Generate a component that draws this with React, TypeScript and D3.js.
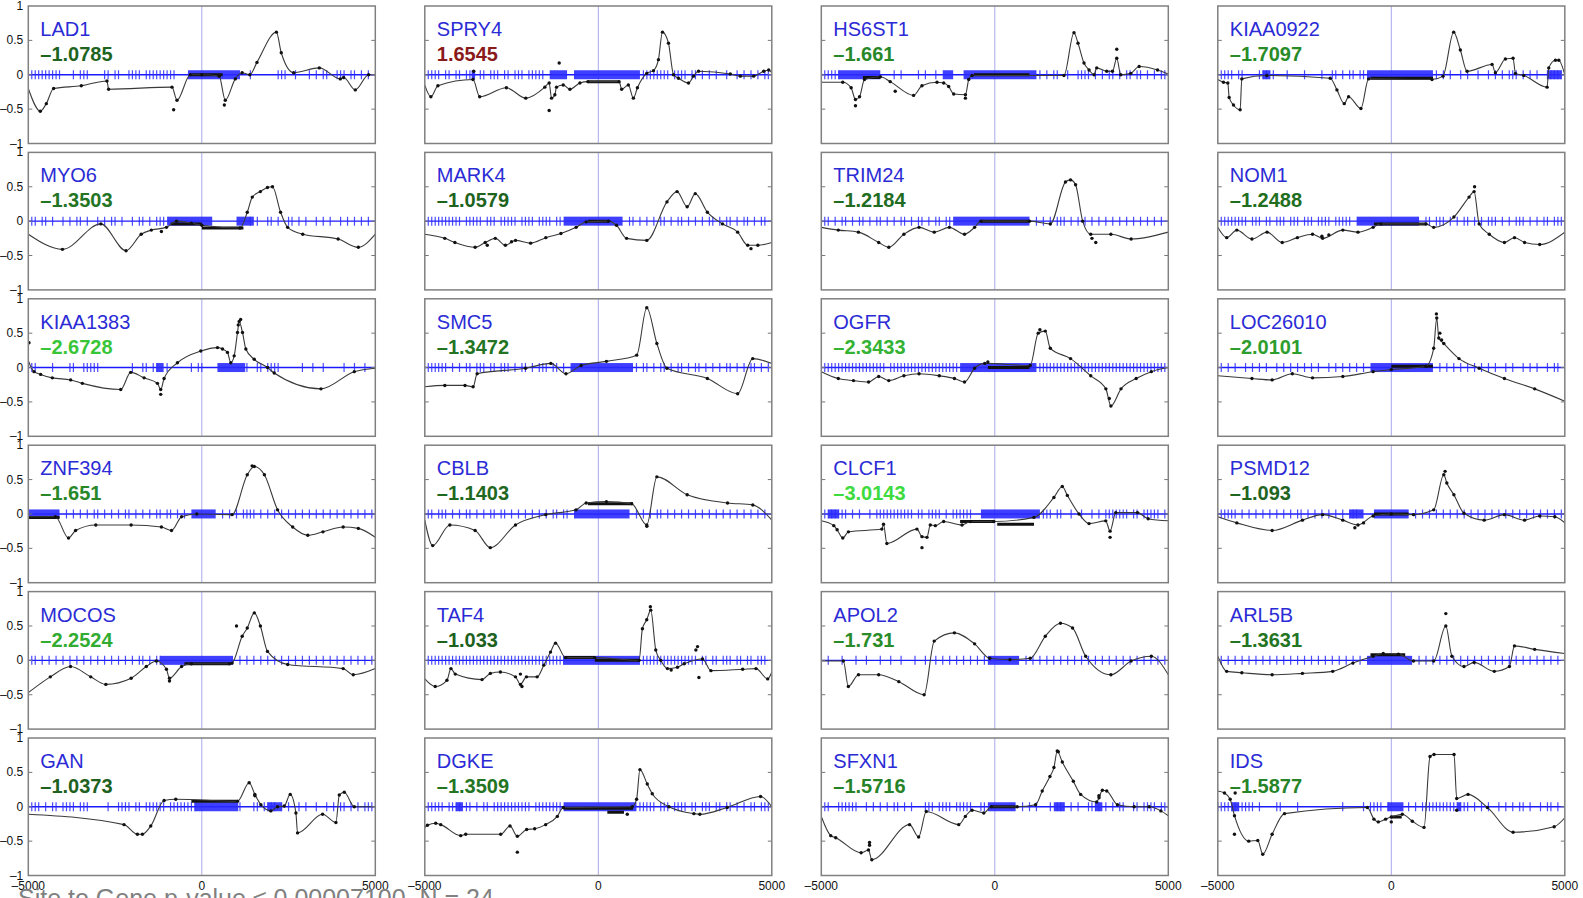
import React from "react";
import * as d3 from "d3";

type P = [number, number];

// ---------- data ----------
const genes = ["LAD1","SPRY4","HS6ST1","KIAA0922","MYO6","MARK4","TRIM24","NOM1","KIAA1383","SMC5","OGFR","LOC26010","ZNF394","CBLB","CLCF1","PSMD12","MOCOS","TAF4","APOL2","ARL5B","GAN","DGKE","SFXN1","IDS"];
const scores = [-1.0785,1.6545,-1.661,-1.7097,-1.3503,-1.0579,-1.2184,-1.2488,-2.6728,-1.3472,-2.3433,-2.0101,-1.651,-1.1403,-3.0143,-1.093,-2.2524,-1.033,-1.731,-1.3631,-1.0373,-1.3509,-1.5716,-1.5877];

const xTicks = [-5000, 0, 5000];
const yTicks = [-1, -0.5, 0, 0.5, 1];
const footer = "Site to Gene  p-value \u2264 0.00007100,  N = 24";

const LAD1_curve: P[] = [[-5000,-0.2],[-4654,-0.53],[-4481,-0.42],[-4270,-0.2],[-3473,-0.16],[-2733,-0.09],[-2685,-0.21],[-859,-0.18],[-715,-0.37],[-330,0],[0,0],[500,-0.02],[677,-0.37],[965,-0.06],[1162,0.03],[1383,0],[1590,0.18],[2150,0.62],[2290,0.32],[2646,0.03],[3386,0.1],[3991,-0.06],[4087,-0.04],[4424,-0.22],[4807,0],[5000,0]];
const LAD1_out: P[] = [[-811,-0.51],[650,-0.44]];
const LAD1_bands = [[-300,600,0]];
const LAD1_ticks = "-49 -48 -47 -46 -45 -44 -43 -42 -41 -37 -35 -34 -33 -28 -27 -25 -24 -21 -20 -19 -18 -16 -15 -14 -13 -12 -11 -10 -9 -8 14 22 23 24 27 31 33 35 36 39 40 41 43 44 46 48";
const LAD1_dense = [[-400,1100]];

const SPRY4_curve: P[] = [[-5000,-0.15],[-4825,-0.32],[-4622,-0.16],[-3611,-0.07],[-3418,-0.32],[-2648,-0.19],[-2090,-0.34],[-1541,-0.18],[-1416,-0.12],[-1348,-0.34],[-1252,-0.29],[-1204,-0.18],[-1011,-0.15],[-818,-0.21],[-530,-0.12],[-300,-0.1],[600,-0.1],[674,-0.21],[866,-0.15],[1011,-0.34],[1127,-0.19],[1396,0.02],[1589,0.06],[1733,0.22],[1849,0.62],[2022,0.46],[2167,0],[2311,-0.05],[2600,-0.12],[2744,-0.02],[2889,0.05],[3804,0.01],[4093,-0.02],[4478,-0.02],[4767,0.05],[4911,0.07],[5000,0.03]];
const SPRY4_out: P[] = [[-1416,-0.52],[-1127,0.17],[-3590,0.05]];
const SPRY4_bands = [[-300,600,-0.1]];
const SPRY4_ticks = "-49 -48 -47 -46 -44 -43 -41 -40 -38 -37 -36 -34 -33 -31 -30 -29 -27 -26 -24 -23 -22 -20 -19 -18 -17 -16 13 14 15 16 17 18 19 20 22 23 24 25 27 28 30 32 34 37 40 42 44 46 48 49";
const SPRY4_dense = [[-1400,-900],[-700,1200],[-3650,-3550]];

const HS6ST1_curve: P[] = [[-5000,-0.11],[-4381,-0.11],[-4140,-0.19],[-4015,-0.36],[-3899,-0.32],[-3755,-0.07],[-3300,-0.03],[-3014,-0.1],[-2340,-0.3],[-2099,-0.16],[-1666,-0.11],[-1473,-0.12],[-1329,-0.17],[-1184,-0.28],[-847,-0.29],[-751,-0.07],[-655,-0.01],[1993,-0.01],[2282,0.61],[2398,0.46],[2571,0.17],[2716,0.07],[2860,0],[2937,0.1],[3226,0.05],[3390,0.05],[3515,0.24],[3630,0],[3919,0.02],[4160,0.12],[4690,0.07],[5000,0.01]];
const HS6ST1_out: P[] = [[-4015,-0.45],[-2870,-0.24],[-847,-0.34],[3515,0.37]];
const HS6ST1_bands = [[-3800,-3300,-0.04],[-600,1000,0]];
const HS6ST1_ticks = "-49 -48 -47 -46 -45 -29 -27 -22 -20 -17 13 15 17 18 21 24 25 26 27 29 31 33 34 36 38 39 41 42 44 46 48 49";
const HS6ST1_dense = [[-4500,-3300],[-1500,-1200],[-900,1200]];

const KIAA0922_curve: P[] = [[-5000,-0.07],[-4836,-0.11],[-4711,-0.12],[-4673,-0.33],[-4548,-0.44],[-4356,-0.51],[-4308,-0.06],[-3586,-0.01],[-1760,-0.05],[-1567,-0.22],[-1356,-0.42],[-1231,-0.32],[-875,-0.49],[-654,-0.06],[1173,-0.07],[1490,-0.02],[1798,0.62],[1990,0.36],[2183,0.05],[2904,0.15],[3000,0.03],[3288,0.23],[3509,0.24],[3577,0.02],[3817,-0.01],[4490,-0.18],[4538,0.1],[4730,0.21],[4826,0.21],[5000,0]];
const KIAA0922_out: P[] = [];
const KIAA0922_bands = [[-600,1200,-0.05]];
const KIAA0922_ticks = "-49 -48 -47 -46 -44 -43 -38 -37 -36 -35 -34 -30 -25 -20 -17 -16 -14 -12 -11 -9 -8 13 15 17 20 22 25 28 30 32 34 35 36 38 40 42 45 46 47 48 49";
const KIAA0922_dense = [[-3700,-3500],[-700,1200],[4500,4900]];

const MYO6_curve: P[] = [[-5000,-0.19],[-4016,-0.41],[-2910,-0.04],[-2183,-0.43],[-1746,-0.19],[-1455,-0.13],[-1019,-0.09],[-728,0],[-300,-0.03],[0,-0.06],[1100,-0.1],[1310,0.13],[1455,0.35],[1688,0.43],[1892,0.49],[2037,0.5],[2270,0.13],[2474,-0.09],[2910,-0.19],[3929,-0.26],[4511,-0.38],[5000,-0.19]];
const MYO6_out: P[] = [[-1164,-0.15]];
const MYO6_bands = [[-900,0,-0.04],[0,1200,-0.1]];
const MYO6_ticks = "-49 -48 -46 -45 -43 -40 -38 -36 -35 -33 -30 -28 -26 -25 -23 -20 -18 -17 -15 -13 -12 -11 14 16 19 20 22 25 26 28 30 33 35 37 40 42 44 46 48";
const MYO6_dense = [[-1000,300],[1000,1500]];

const MARK4_curve: P[] = [[-5000,-0.19],[-4423,-0.25],[-4132,-0.31],[-3550,-0.38],[-3259,-0.31],[-2968,-0.25],[-2677,-0.35],[-2386,-0.28],[-1950,-0.32],[-1513,-0.24],[-1077,-0.18],[-640,-0.09],[-349,-0.01],[300,0],[524,-0.06],[815,-0.25],[1397,-0.28],[1979,0.28],[2270,0.43],[2561,0.21],[2794,0.4],[3143,0.13],[3580,-0.04],[4016,-0.16],[4307,-0.35],[4598,-0.35],[5000,-0.31]];
const MARK4_out: P[] = [[-3200,-0.35],[-2500,-0.3],[4400,-0.4]];
const MARK4_bands = [[-300,300,0]];
const MARK4_ticks = "-49 -48 -47 -46 -45 -44 -43 -42 -41 -40 -38 -37 -36 -35 -34 -32 -31 -30 -28 -27 -26 -25 -24 -22 -21 -20 -19 -17 -16 -15 -14 -12 -11 9 10 12 14 16 18 19 21 23 24 26 28 30 32 33 35 37 38 40 42 43 45 47 48";
const MARK4_dense = [[-1000,700]];

const TRIM24_curve: P[] = [[-5000,-0.09],[-4510,-0.13],[-3929,-0.16],[-3346,-0.31],[-3055,-0.38],[-2619,-0.19],[-2183,-0.09],[-1746,-0.16],[-1310,-0.09],[-873,-0.19],[-582,-0.09],[-400,0],[1000,0],[1600,-0.04],[2037,0.57],[2183,0.6],[2328,0.53],[2532,0],[2765,-0.19],[3346,-0.19],[3929,-0.26],[5000,-0.16]];
const TRIM24_out: P[] = [[2910,-0.31],[2800,-0.25]];
const TRIM24_bands = [[-400,1000,0]];
const TRIM24_ticks = "-49 -48 -46 -44 -43 -41 -39 -38 -36 -34 -33 -31 -29 -27 -26 -24 -22 -21 -19 -17 -16 -14 -13 12 14 16 18 19 20 22 24 26 28 30 32 34 36 38 40 42 44 46 48";
const TRIM24_dense = [[-1200,1000]];

const NOM1_curve: P[] = [[-5000,-0.09],[-4743,-0.24],[-4452,-0.13],[-4016,-0.26],[-3580,-0.16],[-3143,-0.31],[-2707,-0.24],[-2270,-0.19],[-1979,-0.25],[-1397,-0.13],[-960,-0.16],[-524,-0.09],[-300,-0.04],[1000,-0.04],[1222,-0.09],[1804,0.06],[2241,0.35],[2386,0.43],[2532,-0.04],[2823,-0.19],[3259,-0.31],[3550,-0.24],[3841,-0.31],[4278,-0.34],[5000,-0.16]];
const NOM1_out: P[] = [[-2000,-0.22],[-1800,-0.2],[2400,0.5]];
const NOM1_bands = [[-500,1000,-0.04]];
const NOM1_ticks = "-49 -48 -47 -46 -45 -44 -43 -42 -40 -39 -38 -36 -35 -33 -32 -31 -29 -28 -27 -25 -24 -23 -21 -20 -19 -18 -16 -15 -14 -13 -12 10 11 13 14 15 17 19 21 22 24 26 28 29 30 32 34 36 37 38 40 42 44 45 47 48 49";
const NOM1_dense = [[-1000,800]];

const KIAA1383_curve: P[] = [[-5000,0.1],[-4836,-0.06],[-4644,-0.1],[-4308,-0.15],[-3779,-0.18],[-3442,-0.23],[-2337,-0.32],[-2048,-0.07],[-1663,-0.15],[-1279,-0.23],[-1183,-0.32],[-1087,-0.16],[-702,0.07],[-29,0.24],[452,0.29],[596,0.27],[740,0.22],[836,0.07],[933,0.17],[1029,0.51],[1077,0.67],[1173,0.51],[1269,0.27],[1510,0.12],[1894,0],[2087,-0.08],[3433,-0.31],[4394,-0.06],[5000,-0.01]];
const KIAA1383_out: P[] = [[-4980,0.36],[-1183,-0.39],[1120,0.7],[1050,0.62]];
const KIAA1383_bands: number[][] = [];
const KIAA1383_ticks = "-50 -49 -48 -43 -38 -37 -34 -33 -32 -31 -30 -20 -17 -16 -14 -13 -10 -3 -1 0 13 16 17 19 20 21 22 29 32 35 41 44 47";
const KIAA1383_dense = [[-1300,-1100],[450,1250]];

const SMC5_curve: P[] = [[-5000,-0.28],[-4423,-0.26],[-3841,-0.26],[-3608,-0.28],[-3492,-0.09],[-2095,-0.01],[-1368,0.06],[-931,-0.09],[-495,0.03],[233,0.09],[1106,0.18],[1397,0.87],[1688,0.35],[1979,-0.01],[3143,-0.16],[4016,-0.38],[4452,0.13],[5000,0.06]];
const SMC5_out: P[] = [];
const SMC5_bands: number[][] = [];
const SMC5_ticks = "-49 -48 -47 -46 -45 -44 -42 -40 -38 -37 -35 -34 -33 -31 -30 -28 -27 -26 -24 -22 -21 -19 -17 -16 -15 -13 -12 -10 11 13 14 16 18 19 21 23 24 26 28 29 31 33 35 37 38 40 42 44 45 47 49";
const SMC5_dense = [[-800,1000]];

const OGFR_curve: P[] = [[-5000,-0.06],[-4510,-0.16],[-4074,-0.19],[-3637,-0.21],[-3346,-0.13],[-3055,-0.19],[-2619,-0.12],[-2183,-0.09],[-1600,-0.12],[-1164,-0.16],[-873,-0.21],[-582,-0.01],[-291,0.06],[1019,0.03],[1251,0.5],[1455,0.53],[1600,0.28],[2183,0.13],[2765,-0.12],[3201,-0.31],[3346,-0.56],[3637,-0.31],[4074,-0.16],[4511,-0.06],[5000,0]];
const OGFR_out: P[] = [[-200,0.08],[1300,0.55],[3300,-0.45]];
const OGFR_bands = [[-200,1000,0]];
const OGFR_ticks = "-49 -48 -47 -46 -45 -44 -43 -42 -41 -40 -39 -38 -37 -36 -35 -34 -33 -32 -30 -29 -28 -27 -26 -25 -24 -23 -22 -21 -20 -19 -18 -17 -16 -15 -14 -13 -12 -11 13 14 15 16 17 18 19 20 21 22 23 24 25 26 27 28 29 30 31 32 33 34 35 36 37 38 39 40 41 42 43 44 45 46 47 48 49";
const OGFR_dense = [[-1000,1200]];

const LOC26010_curve: P[] = [[-5000,-0.12],[-4016,-0.16],[-3434,-0.18],[-2852,-0.09],[-2270,-0.15],[-1397,-0.13],[-524,-0.06],[0,-0.03],[1000,0.02],[1222,0.28],[1310,0.72],[1368,0.43],[1513,0.35],[1950,0.13],[2532,-0.01],[3259,-0.16],[4132,-0.31],[5000,-0.49]];
const LOC26010_out: P[] = [[1300,0.78],[1400,0.5],[1450,0.4]];
const LOC26010_bands = [[0,1200,0.02]];
const LOC26010_ticks = "-49 -47 -45 -42 -40 -38 -36 -33 -31 -29 -27 -25 -23 -21 -18 -16 -14 -12 -10 -8 14 16 18 20 22 24 26 28 30 33 35 38 40 42 45 47 48";
const LOC26010_dense = [[-600,1200]];

const ZNF394_curve: P[] = [[-5000,-0.04],[-4220,-0.04],[-3841,-0.35],[-3637,-0.24],[-3055,-0.16],[-2037,-0.16],[-1164,-0.19],[-873,-0.24],[-582,-0.04],[-145,0],[873,-0.01],[1310,0.57],[1513,0.69],[1804,0.57],[2183,0.06],[2619,-0.19],[3055,-0.31],[3492,-0.26],[4074,-0.19],[4511,-0.21],[5000,-0.34]];
const ZNF394_out: P[] = [[1450,0.7]];
const ZNF394_bands = [[-5000,-4100,-0.05]];
const ZNF394_ticks = "-39 -37 -35 -33 -31 -30 -28 -26 -24 -22 -21 -19 -17 -15 -13 -12 -10 -9 -7 -5 6 8 10 12 13 14 15 17 19 21 23 25 27 29 31 33 35 37 39 41 43 45 47 49";
const ZNF394_dense = [[-5000,-4100],[-300,400]];

const CBLB_curve: P[] = [[-5000,-0.09],[-4772,-0.46],[-4278,-0.16],[-3550,-0.24],[-3113,-0.49],[-2386,-0.16],[-1513,-0.01],[-640,0.06],[-349,0.16],[233,0.18],[960,0.15],[1397,-0.16],[1688,0.54],[2561,0.28],[3725,0.16],[4452,0.13],[5000,-0.09]];
const CBLB_out: P[] = [[1400,-0.18]];
const CBLB_bands = [[-300,1000,0.15]];
const CBLB_ticks = "-49 -48 -46 -45 -44 -42 -40 -38 -37 -35 -33 -31 -30 -28 -27 -25 -23 -21 -19 -17 -15 -13 -12 -10 -9 11 13 15 17 18 20 22 24 26 28 30 32 34 36 38 40 42 44 46 48";
const CBLB_dense = [[-700,900]];

const CLCF1_curve: P[] = [[-5000,-0.1],[-4640,-0.17],[-4544,-0.23],[-4381,-0.35],[-4218,-0.26],[-3255,-0.22],[-3207,-0.15],[-3110,-0.43],[-2244,-0.22],[-2099,-0.33],[-1955,-0.34],[-1859,-0.16],[-1714,-0.17],[-1473,-0.11],[-944,-0.16],[-703,-0.11],[-29,-0.11],[1127,-0.05],[1704,0.24],[1945,0.4],[2090,0.27],[2427,0],[2716,-0.14],[3197,-0.1],[3322,-0.25],[3486,0.02],[4112,0.02],[4420,-0.07],[5000,-0.1]];
const CLCF1_out: P[] = [[-2099,-0.49],[3322,-0.34]];
const CLCF1_bands = [[70,1130,-0.15],[-1000,0,-0.11]];
const CLCF1_ticks = "-49 -48 -47 -46 -45 -44 -43 -41 -39 -36 -34 -33 -32 -31 -30 -29 -28 -27 -26 -25 -24 -22 -21 -19 -18 -17 -16 -14 -12 -11 -10 -9 -8 -7 14 15 16 18 19 22 25 28 30 32 33 34 35 36 37 38 40 41 43 44 45 46 47 49";
const CLCF1_dense = [[-400,1300],[-4800,-4500]];

const PSMD12_curve: P[] = [[-5000,-0.04],[-4452,-0.13],[-3434,-0.24],[-2561,-0.09],[-1979,-0.01],[-1397,-0.09],[-960,-0.16],[-524,-0.03],[0,0],[640,-0.01],[1222,0.06],[1513,0.57],[1600,0.45],[1804,0.28],[2095,0.01],[2677,-0.09],[3259,-0.01],[3841,-0.09],[4278,-0.03],[4714,-0.04],[5000,-0.13]];
const PSMD12_out: P[] = [[-1050,-0.2],[-800,-0.13],[1550,0.62]];
const PSMD12_bands = [[-500,500,0]];
const PSMD12_ticks = "-49 -48 -47 -46 -45 -43 -41 -39 -37 -35 -33 -31 -29 -27 -26 -24 -22 -20 -18 -16 -14 -12 -11 -10 7 9 11 13 15 17 19 21 23 25 27 29 31 33 35 37 39 41 43 45 47 49";
const PSMD12_dense = [[-1200,-800],[-500,500]];

const MOCOS_curve: P[] = [[-5000,-0.47],[-4365,-0.24],[-3783,-0.09],[-3201,-0.24],[-2765,-0.35],[-2037,-0.26],[-1600,-0.09],[-1310,-0.01],[-1019,-0.13],[-931,-0.26],[-582,-0.09],[-300,-0.05],[800,-0.05],[873,-0.04],[1164,0.35],[1310,0.47],[1513,0.69],[1688,0.5],[1892,0.13],[2474,-0.06],[4074,-0.12],[4365,-0.21],[5000,-0.12]];
const MOCOS_out: P[] = [[-931,-0.3],[1000,0.5]];
const MOCOS_bands = [[-500,800,-0.05]];
const MOCOS_ticks = "-49 -48 -46 -44 -42 -40 -38 -36 -34 -32 -30 -28 -26 -24 -22 -20 -18 -17 -15 -13 -12 11 13 15 17 19 21 23 25 27 29 31 33 35 37 39 41 43 45 47 49";
const MOCOS_dense = [[-1200,900]];

const TAF4_curve: P[] = [[-5000,-0.27],[-4699,-0.38],[-4362,-0.29],[-4247,-0.12],[-4122,-0.2],[-3351,-0.28],[-3111,-0.19],[-2822,-0.17],[-2388,-0.24],[-2244,-0.35],[-2070,-0.24],[-1762,-0.24],[-1570,-0.07],[-1377,0.12],[-1233,0.25],[-944,0.04],[-100,0.04],[1175,0],[1271,0.46],[1396,0.59],[1512,0.73],[1656,0.15],[1800,0],[1993,-0.12],[2282,-0.1],[2475,-0.05],[3004,0.02],[3245,-0.15],[4160,-0.13],[4545,-0.12],[4882,-0.27],[5000,-0.17]];
const TAF4_out: P[] = [[2812,0.15],[2860,0.2],[2900,-0.25],[-2244,-0.2],[-2200,-0.38],[1500,0.78],[2100,-0.14]];
const TAF4_bands = [[-940,-100,0.04],[-100,1200,0]];
const TAF4_ticks = "-49 -48 -47 -46 -45 -44 -43 -42 -41 -40 -39 -38 -37 -36 -35 -34 -33 -32 -31 -30 -29 -28 -27 -26 -25 -24 -23 -22 -21 -20 -19 -18 -17 -16 -15 -14 -13 -12 -11 -10 13 14 15 16 17 18 19 20 21 22 23 24 25 26 27 28 30 31 33 34 36 37 38 40 41 43 44 46 47 48";
const TAF4_dense = [[-1000,1200]];

const APOL2_curve: P[] = [[-5000,-0.01],[-4365,-0.01],[-4220,-0.38],[-3929,-0.21],[-3346,-0.21],[-2765,-0.31],[-2037,-0.5],[-1746,0.28],[-1164,0.4],[-582,0.24],[-145,0.03],[437,0.01],[1019,0.03],[1455,0.35],[1892,0.54],[2241,0.47],[2619,0.06],[3346,-0.21],[3929,-0.01],[4511,0.06],[5000,-0.21]];
const APOL2_out: P[] = [];
const APOL2_bands: number[][] = [];
const APOL2_ticks = "-48 -44 -40 -37 -33 -30 -27 -23 -20 -17 -15 -13 -11 -9 -7 -5 -3 9 11 13 15 17 19 21 23 25 27 29 31 33 35 37 39 41 43 45 47 49";
const APOL2_dense = [[-200,700]];

const ARL5B_curve: P[] = [[-5000,0.06],[-4743,-0.16],[-4307,-0.18],[-3434,-0.21],[-2561,-0.19],[-1688,-0.16],[-1106,-0.04],[-524,0.06],[-233,0.1],[204,0.09],[640,-0.01],[1222,-0.01],[1571,0.5],[1746,0.06],[2095,-0.09],[2386,-0.03],[2968,-0.16],[3404,-0.09],[3550,0.21],[4132,0.16],[5000,0.1]];
const ARL5B_out: P[] = [[1571,0.68]];
const ARL5B_bands = [[-600,400,0.08]];
const ARL5B_ticks = "-49 -47 -45 -43 -41 -39 -37 -35 -33 -31 -29 -27 -25 -23 -21 -19 -17 -15 -13 -11 -9 8 10 12 14 16 18 20 22 24 26 28 30 32 34 36 38 40 42 44 46 48";
const ARL5B_dense = [[-700,600]];

const GAN_curve: P[] = [[-5000,-0.11],[-2241,-0.26],[-1856,-0.4],[-1712,-0.4],[-1471,-0.28],[-1087,0.09],[-750,0.11],[1029,0.08],[1365,0.35],[1529,0.18],[1702,0.03],[1990,-0.06],[2183,0],[2375,0.01],[2548,0.18],[2712,-0.09],[2760,-0.38],[3481,-0.11],[3865,-0.23],[3962,0.17],[4106,0.21],[4394,0],[5000,0]];
const GAN_out: P[] = [[1530,0.16]];
const GAN_bands = [[-300,1000,0.08]];
const GAN_ticks = "-49 -48 -47 -45 -43 -42 -40 -39 -38 -37 -35 -34 -33 -27 -24 -23 -22 -21 -19 -18 -16 -15 -14 -13 -12 -11 -9 -8 -7 -6 -5 -4 -3 -2 11 15 16 18 19 20 21 23 25 28 30 33 36 38 40 41 43 45 47 48 49";
const GAN_dense = [[-200,1050],[1900,2300]];

const DGKE_curve: P[] = [[-5000,-0.3],[-4925,-0.27],[-4685,-0.24],[-4541,-0.26],[-3965,-0.42],[-3821,-0.4],[-2813,-0.4],[-2544,-0.28],[-2333,-0.43],[-2064,-0.33],[-1834,-0.32],[-1517,-0.26],[-1181,-0.14],[-1008,-0.01],[979,0],[1104,0.11],[1200,0.54],[1411,0.33],[1555,0.19],[2035,0],[2755,-0.1],[2928,-0.11],[3715,-0.01],[4675,0.15],[5000,0]];
const DGKE_out: P[] = [[-2333,-0.66],[835,-0.11]];
const DGKE_bands = [[-1000,1000,-0.02],[260,740,-0.08]];
const DGKE_ticks = "-49 -48 -47 -46 -45 -43 -42 -41 -40 -38 -37 -35 -33 -32 -30 -29 -28 -27 -26 -25 -24 -23 -22 -21 -20 -18 -17 -16 -15 -14 -13 -12 -11 12 13 14 15 16 18 19 20 22 23 24 25 27 28 30 31 32 34 35 37 38 40 42 44 45 47 48 49";
const DGKE_dense = [[-4100,-3900],[-1000,1100]];

const SFXN1_curve: P[] = [[-5000,-0.14],[-4727,-0.42],[-4583,-0.45],[-3852,-0.67],[-3640,-0.63],[-3544,-0.77],[-2456,-0.26],[-2196,-0.44],[-1974,-0.07],[-1040,-0.26],[-848,-0.14],[-655,-0.05],[-318,-0.09],[-100,0],[645,0],[1175,0.03],[1367,0.23],[1589,0.44],[1704,0.57],[1800,0.81],[1945,0.65],[2263,0.37],[2475,0.18],[2937,0.07],[3004,0.13],[3100,0.24],[3226,0.23],[3534,0.03],[4016,0],[4449,0],[4786,-0.06],[5000,-0.13]];
const SFXN1_out: P[] = [[-3610,-0.52],[-3610,-0.56],[1830,0.8],[3000,0.16]];
const SFXN1_bands = [[-100,600,0]];
const SFXN1_ticks = "-50 -49 -48 -45 -44 -43 -42 -41 -40 -37 -35 -33 -31 -29 -28 -26 -24 -20 -19 -18 -16 -15 -14 -13 -11 -10 -9 -8 -7 -4 -3 8 10 12 16 18 19 20 22 24 27 28 29 30 32 34 36 37 40 41 43 44 45 46 48 49";
const SFXN1_dense = [[-200,600],[1700,2000],[2900,3100]];

const IDS_curve: P[] = [[-5000,0.23],[-4808,0.2],[-4644,0.11],[-4519,-0.13],[-4108,-0.5],[-3848,-0.49],[-3704,-0.69],[-3434,-0.4],[-3078,-0.1],[-693,-0.01],[-500,-0.18],[-375,-0.22],[-164,-0.18],[0,-0.15],[317,-0.11],[606,-0.21],[943,-0.3],[1116,0.73],[1231,0.76],[1808,0.76],[1885,0.12],[2212,0.18],[2770,-0.01],[3511,-0.37],[4694,-0.29],[5000,-0.16]];
const IDS_out: P[] = [[-4500,0.2],[-4520,-0.4],[0,-0.22],[1885,-0.05]];
const IDS_bands = [[0,300,-0.15]];
const IDS_ticks = "-50 -49 -48 -47 -46 -45 -44 -43 -42 -41 -40 -38 -33 -32 -27 -14 -8 -6 -5 -4 -3 -1 5 7 9 10 11 12 13 14 15 16 17 18 19 20 21 22 24 26 28 31 33 35 37 38 40 43 45 46 48";
const IDS_dense = [[-4600,-4400],[-100,350],[1900,2000]];

// ---------- assembly ----------
const curves = [LAD1_curve,SPRY4_curve,HS6ST1_curve,KIAA0922_curve,MYO6_curve,MARK4_curve,TRIM24_curve,NOM1_curve,KIAA1383_curve,SMC5_curve,OGFR_curve,LOC26010_curve,ZNF394_curve,CBLB_curve,CLCF1_curve,PSMD12_curve,MOCOS_curve,TAF4_curve,APOL2_curve,ARL5B_curve,GAN_curve,DGKE_curve,SFXN1_curve,IDS_curve];
const outs = [LAD1_out,SPRY4_out,HS6ST1_out,KIAA0922_out,MYO6_out,MARK4_out,TRIM24_out,NOM1_out,KIAA1383_out,SMC5_out,OGFR_out,LOC26010_out,ZNF394_out,CBLB_out,CLCF1_out,PSMD12_out,MOCOS_out,TAF4_out,APOL2_out,ARL5B_out,GAN_out,DGKE_out,SFXN1_out,IDS_out];
const bands = [LAD1_bands,SPRY4_bands,HS6ST1_bands,KIAA0922_bands,MYO6_bands,MARK4_bands,TRIM24_bands,NOM1_bands,KIAA1383_bands,SMC5_bands,OGFR_bands,LOC26010_bands,ZNF394_bands,CBLB_bands,CLCF1_bands,PSMD12_bands,MOCOS_bands,TAF4_bands,APOL2_bands,ARL5B_bands,GAN_bands,DGKE_bands,SFXN1_bands,IDS_bands];
const ticks = [LAD1_ticks,SPRY4_ticks,HS6ST1_ticks,KIAA0922_ticks,MYO6_ticks,MARK4_ticks,TRIM24_ticks,NOM1_ticks,KIAA1383_ticks,SMC5_ticks,OGFR_ticks,LOC26010_ticks,ZNF394_ticks,CBLB_ticks,CLCF1_ticks,PSMD12_ticks,MOCOS_ticks,TAF4_ticks,APOL2_ticks,ARL5B_ticks,GAN_ticks,DGKE_ticks,SFXN1_ticks,IDS_ticks];
const denses = [LAD1_dense,SPRY4_dense,HS6ST1_dense,KIAA0922_dense,MYO6_dense,MARK4_dense,TRIM24_dense,NOM1_dense,KIAA1383_dense,SMC5_dense,OGFR_dense,LOC26010_dense,ZNF394_dense,CBLB_dense,CLCF1_dense,PSMD12_dense,MOCOS_dense,TAF4_dense,APOL2_dense,ARL5B_dense,GAN_dense,DGKE_dense,SFXN1_dense,IDS_dense];

const FONT = "'Liberation Sans', Arial, Helvetica, sans-serif";
const PW = 347, PH = 137.5;
const X0 = 28.3, DX = 396.5, Y0 = 6, DY = 146.4;

const greenScale = d3.scaleLinear<string>().domain([1, 3.1]).range(["#1d5f1d", "#3fe03f"]).clamp(true).interpolate(d3.interpolateRgb);
const scoreColor = (s: number) => (s > 0 ? "#8a1a1a" : greenScale(-s));
const fmtScore = (s: number) => (s < 0 ? "\u2013" + String(-s) : String(s));

function Panel({ i }: { i: number }) {
  const c = i % 4, r = Math.floor(i / 4);
  const left = X0 + c * DX, top = Y0 + r * DY;
  const x = d3.scaleLinear().domain([-5000, 5000]).range([0, PW]);
  const y = d3.scaleLinear().domain([-1, 1]).range([PH, 0]);
  const line = d3.line<P>().x(d => x(d[0])).y(d => y(d[1])).curve(d3.curveMonotoneX);
  const pts = curves[i];
  const tk = ticks[i].split(/\s+/).map(Number).map(v => v * 100);
  const clipId = `clip${i}`;
  return (
    <g transform={`translate(${left},${top})`}>
      <defs>
        <clipPath id={clipId}><rect x={0} y={0} width={PW} height={PH} /></clipPath>
      </defs>
      <g clipPath={`url(#${clipId})`}>
        <line x1={x(0)} x2={x(0)} y1={0} y2={PH} stroke="#a8a8ee" strokeWidth={1} />
        <line x1={0} x2={PW} y1={y(0)} y2={y(0)} stroke="#1a1aff" strokeWidth={1.4} />
        {tk.map((v, k) => (
          <line key={k} x1={x(v)} x2={x(v)} y1={y(0) - 4.5} y2={y(0) + 4.5} stroke="#2a2aff" strokeOpacity={0.85} strokeWidth={1.2} />
        ))}
        {denses[i].map((d, k) => (
          <rect key={k} x={x(d[0])} y={y(0) - 4.5} width={x(d[1]) - x(d[0])} height={9} fill="#2a2aff" fillOpacity={0.9} />
        ))}
        {bands[i].map((b, k) => (
          <line key={k} x1={x(b[0])} x2={x(b[1])} y1={y(b[2])} y2={y(b[2])} stroke="#111" strokeWidth={3} />
        ))}
        <path d={line(pts) || ""} fill="none" stroke="#3a3a3a" strokeWidth={1.1} />
        {pts.slice(1, -1).map((p, k) => (
          <circle key={k} cx={x(p[0])} cy={y(p[1])} r={1.7} fill="#111" />
        ))}
        {outs[i].map((p, k) => (
          <circle key={"o" + k} cx={x(p[0])} cy={y(p[1])} r={1.7} fill="#111" />
        ))}
      </g>
      {[-0.5, 0, 0.5].map((v, k) => (
        <g key={"t" + k}>
          <line x1={0} x2={4} y1={y(v)} y2={y(v)} stroke="#777" strokeWidth={1} />
          <line x1={PW - 4} x2={PW} y1={y(v)} y2={y(v)} stroke="#777" strokeWidth={1} />
        </g>
      ))}
      <rect x={0} y={0} width={PW} height={PH} fill="none" stroke="#808080" strokeWidth={1.5} />
      <text x={12} y={30} fontSize={20} fill="#2b2bd6" fontFamily={FONT}>{genes[i]}</text>
      <text x={12} y={55} fontSize={20} fontWeight="bold" fill={scoreColor(scores[i])} fontFamily={FONT}>{fmtScore(scores[i])}</text>
      {c === 0 && yTicks.map((v, k) => (
        <text key={"yl" + k} x={-5} y={y(v) + 4} fontSize={12} textAnchor="end" fill="#111" fontFamily={FONT}>
          {v < 0 ? "\u2013" + String(-v) : String(v)}
        </text>
      ))}
      {r === 5 && xTicks.map((v, k) => (
        <text key={"xl" + k} x={x(v)} y={PH + 14} fontSize={12} textAnchor="middle" fill="#111" fontFamily={FONT}>
          {v < 0 ? "\u2013" + String(-v) : String(v)}
        </text>
      ))}
    </g>
  );
}

export default function App() {
  return (
    <svg width={1583} height={898} style={{ position: "absolute", left: 0, top: 0, background: "#fff" }}>
      <rect x={0} y={0} width={1583} height={898} fill="#fff" />
      {genes.map((g, i) => <Panel key={g} i={i} />)}
      <text x={18} y={907} fontSize={25} fill="#808080" fontFamily={FONT}>{footer}</text>
    </svg>
  );
}
